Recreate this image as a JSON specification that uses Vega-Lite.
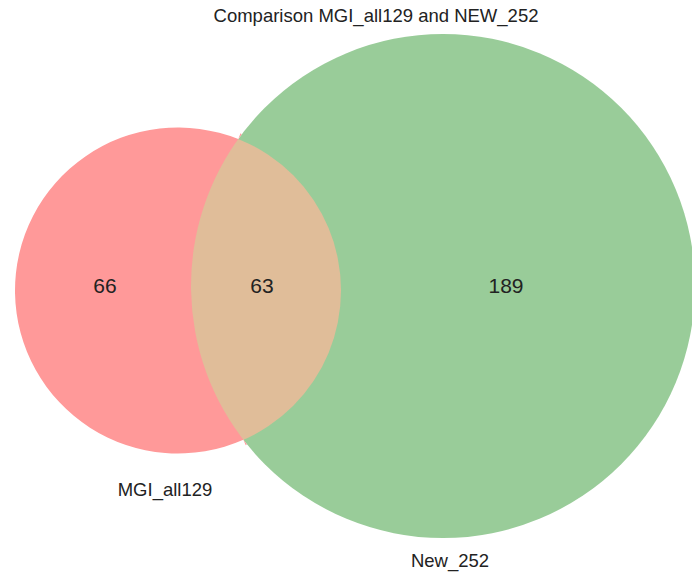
{
  "$schema": "https://vega.github.io/schema/vega-lite/v6.json",
  "width": 692,
  "height": 572,
  "autosize": "none",
  "padding": 0,
  "background": "white",
  "config": {"view": {"stroke": null}},
  "title": {
    "text": "Comparison MGI_all129 and NEW_252",
    "font": "Liberation Sans",
    "fontSize": 18.5,
    "fontWeight": "normal",
    "color": "#222222",
    "anchor": "middle",
    "baseline": "middle",
    "dx": 30,
    "offset": -34
  },
  "datasets": {
    "circles": [
      {"set": "MGI_all129", "total": 129, "cx": -1.68, "cy": -0.045, "r": 1.63},
      {"set": "New_252", "total": 252, "cx": 0.97, "cy": 0.0, "r": 2.52}
    ],
    "regions": [
      {"region": "MGI_all129 only", "count": 66, "px": -2.41, "py": -0.01},
      {"region": "MGI_all129 and New_252", "count": 63, "px": -0.84, "py": -0.01},
      {"region": "New_252 only", "count": 189, "px": 1.6, "py": -0.01}
    ],
    "setlabels": [
      {"set": "MGI_all129", "px": -1.81, "py": -2.04},
      {"set": "New_252", "px": 1.04, "py": -2.75}
    ]
  },
  "layer": [
    {
      "data": {"name": "circles"},
      "transform": [{"filter": "datum.set === 'New_252'"}],
      "mark": {"type": "arc", "theta": 0, "theta2": 6.2832, "fill": "#99cc99", "strokeWidth": 0, "clip": true},
      "encoding": {
        "x": {"field": "cx", "type": "quantitative", "scale": {"domain": [-3.46, 3.46], "nice": false, "zero": false}, "axis": null},
        "y": {"field": "cy", "type": "quantitative", "scale": {"domain": [-2.86, 2.86], "nice": false, "zero": false}, "axis": null},
        "radius": {"field": "r", "type": "quantitative", "scale": {"type": "linear", "domain": [0, 3.46], "range": [0, 346], "zero": true}}
      }
    },
    {
      "data": {"name": "circles"},
      "transform": [{"filter": "datum.set === 'MGI_all129'"}],
      "mark": {"type": "arc", "theta": 0, "theta2": 6.2832, "fill": "#e0bd99", "strokeWidth": 0, "clip": true},
      "encoding": {
        "x": {"field": "cx", "type": "quantitative", "scale": {"domain": [-3.46, 3.46], "nice": false, "zero": false}, "axis": null},
        "y": {"field": "cy", "type": "quantitative", "scale": {"domain": [-2.86, 2.86], "nice": false, "zero": false}, "axis": null},
        "radius": {"field": "r", "type": "quantitative", "scale": {"type": "linear", "domain": [0, 3.46], "range": [0, 346], "zero": true}}
      }
    },
    {
      "data": {"name": "circles"},
      "transform": [{"filter": "datum.set === 'New_252'"}],
      "mark": {"type": "arc", "theta": -2.25, "theta2": -0.925, "fill": "#ff9999", "strokeWidth": 0, "clip": true},
      "encoding": {
        "x": {"field": "cx", "type": "quantitative", "scale": {"domain": [-3.46, 3.46], "nice": false, "zero": false}, "axis": null},
        "y": {"field": "cy", "type": "quantitative", "scale": {"domain": [-2.86, 2.86], "nice": false, "zero": false}, "axis": null},
        "radius": {"field": "r", "type": "quantitative", "scale": {"type": "linear", "domain": [0, 3.46], "range": [0, 346], "zero": true}},
        "radius2": {"datum": 12}
      }
    },
    {
      "data": {"name": "circles"},
      "transform": [{"filter": "datum.set === 'MGI_all129'"}],
      "mark": {"type": "arc", "theta": 2.729, "theta2": 6.662, "fill": "#ffffff", "strokeWidth": 0, "clip": true},
      "encoding": {
        "x": {"field": "cx", "type": "quantitative", "scale": {"domain": [-3.46, 3.46], "nice": false, "zero": false}, "axis": null},
        "y": {"field": "cy", "type": "quantitative", "scale": {"domain": [-2.86, 2.86], "nice": false, "zero": false}, "axis": null},
        "radius": {"field": "r", "type": "quantitative", "scale": {"type": "linear", "domain": [0, 3.46], "range": [0, 346], "zero": true}},
        "radius2": {"datum": 12}
      }
    },
    {
      "data": {"name": "regions"},
      "mark": {"type": "text", "font": "Liberation Sans", "fontSize": 21, "fill": "#222222", "align": "center", "baseline": "middle"},
      "encoding": {
        "x": {"field": "px", "type": "quantitative", "scale": {"domain": [-3.46, 3.46], "nice": false, "zero": false}, "axis": null},
        "y": {"field": "py", "type": "quantitative", "scale": {"domain": [-2.86, 2.86], "nice": false, "zero": false}, "axis": null},
        "text": {"field": "count", "type": "quantitative"}
      }
    },
    {
      "data": {"name": "setlabels"},
      "mark": {"type": "text", "font": "Liberation Sans", "fontSize": 18.5, "fill": "#222222", "align": "center", "baseline": "middle"},
      "encoding": {
        "x": {"field": "px", "type": "quantitative", "scale": {"domain": [-3.46, 3.46], "nice": false, "zero": false}, "axis": null},
        "y": {"field": "py", "type": "quantitative", "scale": {"domain": [-2.86, 2.86], "nice": false, "zero": false}, "axis": null},
        "text": {"field": "set", "type": "nominal"}
      }
    }
  ]
}
